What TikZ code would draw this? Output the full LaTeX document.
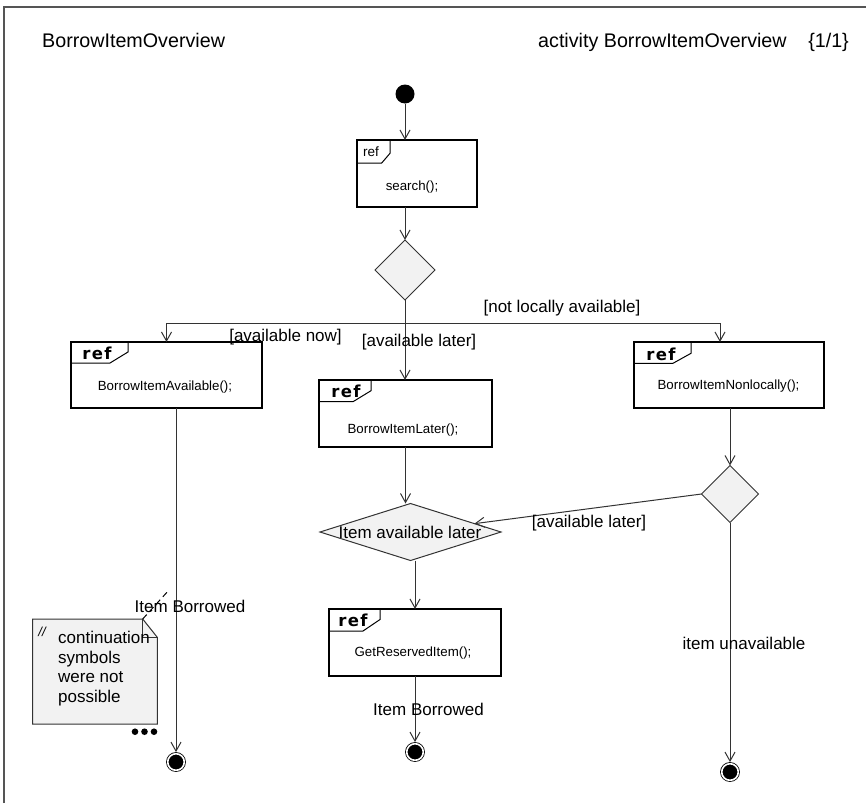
\documentclass[tikz,border=0pt]{standalone}
\usepackage{fontspec}
\setmainfont{Liberation Sans}
\newfontfamily\reffont{DejaVu Sans}[LetterSpace=8]
\usetikzlibrary{arrows.meta,shapes.geometric}

\definecolor{linegray}{HTML}{333333}
\definecolor{framegray}{HTML}{555555}
\definecolor{shade}{HTML}{F2F2F2}

\tikzset{
  actbox/.style={draw=black, line width=1.1pt, rectangle, inner sep=0pt, outer sep=0pt},
  boxtext/.style={font=\fontsize{13.3}{16}\selectfont, inner sep=0pt},
  guard/.style={font=\fontsize{17}{20}\selectfont, inner sep=0pt},
  titletext/.style={font=\fontsize{19.7}{23}\selectfont, inner sep=0pt},
  reftag/.style={font=\reffont\bfseries\fontsize{16.5}{19}\selectfont, inner sep=0pt},
  plainref/.style={font=\fontsize{13.5}{16}\selectfont, inner sep=0pt},
  conn/.style={draw=linegray, line width=1pt, -{Straight Barb[length=9pt,width=10pt]}},
  decision/.style={diamond, draw=linegray, fill=shade, line width=1pt, inner sep=0pt, outer sep=0pt},
  startdot/.style={circle, fill=black, minimum size=19pt, inner sep=0pt},
  enddot/.style={circle, draw=black, fill=black, line width=0.8pt, double=white,
    double distance=1.6pt, minimum size=16.6pt, inner sep=0pt, outer sep=1.6pt},
  tabline/.style={draw=black, line width=1pt},
}

% corner tab of an interaction-use frame:
% #1 box, #2 tab width, #3 bottom edge length, #4 tab height, #5 rise of slanted edge
\newcommand\reftab[5]{%
  \draw[tabline] ([yshift=-#4pt]#1.north west) -- ++(#3,0) -- ++({#2-#3},{-(#5)})
    -- ([xshift=#2pt]#1.north west);}

\begin{document}
\begin{tikzpicture}[x=1pt,y=-1pt]
\useasboundingbox (0,0) rectangle (866,803);
\fill[white] (0,0) rectangle (866,803);
\draw[framegray, line width=1.2pt] (4,803) -- (4,7) -- (866,7);

% header
\node[titletext, anchor=base west] (title) at (42,47) {BorrowItemOverview};
\node[titletext, anchor=base west] (kind) at (538,47) {activity BorrowItemOverview};
\node[titletext, anchor=base east] (page) at (849,47) {\{1/1\}};

% activity nodes
\node[startdot] (init) at (405,94) {};
\node[actbox, minimum width=120pt, minimum height=67pt] (search) at (417,173.5) {};
\node[decision, minimum width=60pt, minimum height=60pt] (d1) at (405,270) {};
\node[actbox, minimum width=191pt, minimum height=66pt] (avail) at (166.5,375) {};
\node[actbox, minimum width=173pt, minimum height=67pt] (later) at (405.5,413.5) {};
\node[actbox, minimum width=190pt, minimum height=66pt] (nonloc) at (729,375) {};
\node[decision, minimum width=181pt, minimum height=57pt] (d2) at (410.5,532) {};
\node[decision, minimum width=57pt, minimum height=57pt] (d3) at (730,494) {};
\node[actbox, minimum width=172pt, minimum height=67pt] (reserved) at (415,642.5) {};
\node[enddot] (fin1) at (176,762) {};
\node[enddot] (fin2) at (415,752) {};
\node[enddot] (fin3) at (730,772) {};

% frame tabs
\reftab{search}{33}{24.7}{23}{9.7}
\reftab{avail}{57}{39}{21}{11}
\reftab{later}{52}{34}{21.7}{11}
\reftab{nonloc}{57}{39}{21.3}{10}
\reftab{reserved}{51}{34}{22}{11.5}

\node[plainref] (searchRef) at (371,152) {ref};
\node[reftag] (availRef) at (97,353) {ref};
\node[reftag] (laterRef) at (346,391.5) {ref};
\node[reftag] (nonlocRef) at (661,354) {ref};
\node[reftag] (reservedRef) at (353,620.5) {ref};

% box contents
\node[boxtext] (searchT) at (412,187) {search();};
\node[boxtext] (availT) at (165,387) {BorrowItemAvailable();};
\node[boxtext] (laterT) at (403,430) {BorrowItemLater();};
\node[boxtext] (nonlocT) at (728.5,386.5) {BorrowItemNonlocally();};
\node[boxtext] (reservedT) at (413,653.5) {GetReservedItem();};
\node[guard] (d2T) at (410,532) {Item available later};

% control flow
\coordinate (fork) at (405,323);
\coordinate (nonlocIn) at ([xshift=-9pt]nonloc.north);
\draw[conn] (init) -- (init |- search.north);
\draw[conn] (search.south -| d1) -- (d1.north);
\draw[conn] (d1.south) -- (d1.south |- later.north);
\draw[conn] (fork) -| (avail.north);
\draw[conn] (fork) -| (nonlocIn);
\draw[conn] ([xshift=9.5pt]avail.south) -- (fin1);
\draw[conn] (later.south) -- (later.south |- d2.north);
\draw[conn] (d2.south -| reserved) -- (reserved.north);
\draw[conn] (reserved.south) -- (fin2);
\draw[conn] (nonloc.south -| d3) -- (d3.north);
\draw[conn] (d3.south) -- (fin3);
\draw[conn] (d3.west) -- (d2);

% guards and flow labels
\node[guard] (gNotLocal) at (562,308) {[not locally available]};
\node[guard] (gNow) at (285.5,337) {[available now]};
\node[guard] (gLater) at (419,342) {[available later]};
\node[guard] (gLater2) at (589,523) {[available later]};
\node[guard] (gBorrowed1) at (190,606) {Item Borrowed};
\node[guard] (gBorrowed2) at (428.5,709) {Item Borrowed};
\node[guard] (gUnavail) at (744,643) {item unavailable};

% comment note
\filldraw[fill=shade, draw=linegray, line width=1pt]
  (32.7,619) -- (142.7,619) -- (157.3,637.3) -- (157.3,724) -- (32.7,724) -- cycle;
\draw[linegray, line width=1pt] (142.7,619) -- (142.7,637.3) -- (157.3,637.3);
\node[font=\itshape\fontsize{13}{15}\selectfont, inner sep=0pt] (noteMark) at (42,631.5) {//};
\node[anchor=north west, align=left, inner sep=0pt, font=\fontsize{17}{19.5}\selectfont]
  (noteText) at (58,631) {continuation\\symbols\\were not\\possible};
\coordinate (noteCorner) at (142.7,619);
\coordinate (notePin) at (169,590);
\draw[black, line width=1pt, dash pattern=on 6pt off 4pt] (noteCorner) -- (notePin);
\fill (135,731.7) circle (3.3) (144.5,731.7) circle (3.3) (154,731.7) circle (3.3);
\end{tikzpicture}
\end{document}
